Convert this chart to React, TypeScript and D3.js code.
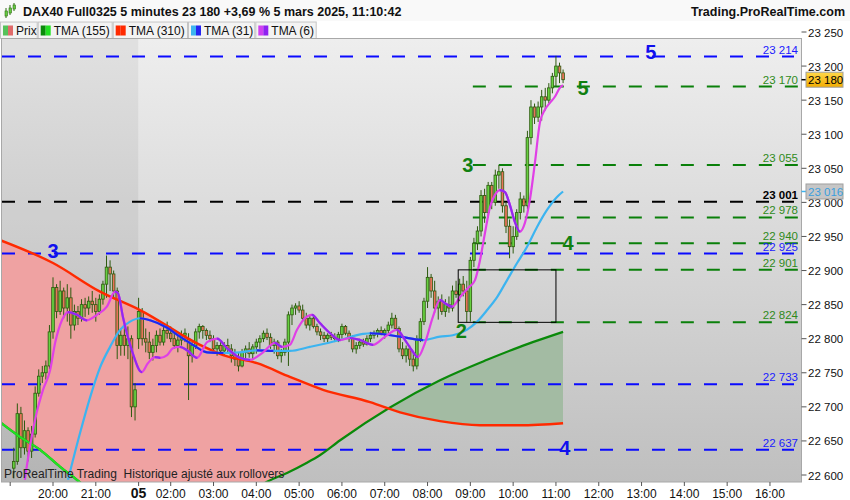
import * as d3 from "d3"

// ---- data ----
const firstBar = 4 // bar index of the first candle (19:05), 5-min bars, index 39 = session open

const opens = [
  22610, 22620, 22690, 22640, 22665, 22635, 22660, 22720, 22745, 22750,
  22760, 22810, 22875, 22840, 22870, 22845, 22860, 22820, 22840, 22830,
  22850, 22845, 22855, 22850, 22840, 22858, 22880, 22905, 22895, 22870,
  22790, 22805, 22790, 22800, 22700,
  22800, 22840, 22800, 22795, 22780, 22790, 22805, 22795, 22812, 22808,
  22800, 22790, 22798, 22805, 22800, 22775, 22790, 22810, 22818, 22812,
  22805, 22800, 22785, 22790, 22782, 22790, 22785, 22775, 22770, 22760,
  22780, 22785, 22778, 22788, 22795, 22800, 22808, 22802, 22790, 22795,
  22775, 22780, 22795, 22835, 22845, 22848, 22842, 22830, 22820, 22830,
  22818, 22810, 22805, 22800, 22805, 22802, 22800, 22806, 22818, 22808,
  22800, 22785, 22790, 22795, 22792, 22800, 22805, 22808, 22812, 22808,
  22812, 22820, 22830, 22815, 22785, 22775, 22785, 22770, 22760, 22800,
  22825, 22855, 22890, 22870, 22845, 22855, 22840, 22850, 22845, 22870,
  22865, 22880, 22870, 22840, 22915, 22940, 22958, 23010, 22985, 23025,
  23000, 23040, 23045, 22995, 22965, 22935, 22950, 22985, 23005, 22995,
  23095, 23140, 23125, 23140, 23155, 23150, 23168, 23185, 23200, 23190,
]
const highs = [
  22640, 22705, 22700, 22680, 22670, 22672, 22730, 22755, 22760, 22768,
  22820, 22890, 22880, 22885, 22875, 22880, 22875, 22850, 22848, 22858,
  22860, 22862, 22870, 22860, 22865, 22885, 22922, 22915, 22900, 22875,
  22815, 22820, 22818, 22805, 22735,
  22860, 22845, 22815, 22810, 22800, 22812, 22815, 22820, 22825, 22818,
  22812, 22805, 22812, 22815, 22808, 22795, 22815, 22822, 22820, 22815,
  22812, 22805, 22795, 22798, 22795, 22800, 22792, 22785, 22780, 22785,
  22790, 22795, 22792, 22800, 22805, 22812, 22815, 22808, 22800, 22798,
  22785, 22800, 22840, 22850, 22852, 22855, 22850, 22838, 22835, 22835,
  22822, 22815, 22810, 22808, 22810, 22808, 22810, 22822, 22820, 22812,
  22805, 22795, 22800, 22800, 22805, 22810, 22812, 22815, 22818, 22815,
  22825, 22838, 22835, 22818, 22795, 22790, 22790, 22780, 22805, 22830,
  22860, 22905, 22895, 22885, 22862, 22865, 22858, 22862, 22878, 22885,
  22888, 22892, 22885, 22920, 22948, 22965, 23018, 23020, 23030, 23030,
  23048, 23055, 23050, 23000, 22975, 22965, 22990, 23015, 23010, 23105,
  23150, 23145, 23148, 23165, 23168, 23175, 23190, 23215, 23205, 23195,
]
const lows = [
  22595, 22615, 22625, 22630, 22620, 22625, 22655, 22715, 22735, 22740,
  22755, 22800, 22830, 22835, 22830, 22825, 22800, 22812, 22820, 22825,
  22832, 22835, 22838, 22825, 22835, 22850, 22860, 22870, 22860, 22770,
  22775, 22775, 22770, 22685, 22680,
  22785, 22790, 22780, 22770, 22768, 22780, 22790, 22790, 22800, 22795,
  22785, 22780, 22790, 22795, 22710, 22765, 22785, 22800, 22800, 22798,
  22795, 22780, 22775, 22778, 22775, 22780, 22765, 22760, 22752, 22758,
  22770, 22772, 22770, 22778, 22785, 22795, 22798, 22785, 22778, 22770,
  22765, 22775, 22760, 22820, 22835, 22838, 22825, 22815, 22812, 22815,
  22805, 22798, 22795, 22795, 22798, 22795, 22795, 22800, 22805, 22795,
  22780, 22778, 22785, 22788, 22790, 22795, 22800, 22802, 22805, 22800,
  22808, 22815, 22812, 22780, 22770, 22765, 22760, 22752, 22755, 22795,
  22820, 22845, 22860, 22838, 22828, 22835, 22832, 22838, 22840, 22860,
  22855, 22862, 22824, 22825, 22905, 22930, 22950, 22970, 22978, 22990,
  22995, 23020, 22985, 22955, 22918, 22925, 22945, 22975, 22985, 22990,
  23085, 23115, 23118, 23120, 23135, 23145, 23160, 23170, 23175, 23175,
]
const closes = [
  22620, 22690, 22640, 22665, 22635, 22660, 22720, 22745, 22750, 22760,
  22810, 22875, 22840, 22870, 22845, 22860, 22820, 22840, 22830, 22850,
  22845, 22855, 22850, 22840, 22858, 22880, 22905, 22895, 22870, 22790,
  22805, 22790, 22800, 22700, 22725,
  22840, 22800, 22795, 22780, 22790, 22805, 22795, 22812, 22808, 22800,
  22790, 22798, 22805, 22808, 22775, 22790, 22810, 22818, 22812, 22805,
  22800, 22785, 22790, 22782, 22790, 22785, 22775, 22770, 22760, 22780,
  22785, 22778, 22788, 22795, 22800, 22808, 22802, 22790, 22795, 22775,
  22780, 22795, 22835, 22845, 22848, 22842, 22830, 22820, 22830, 22818,
  22810, 22805, 22800, 22805, 22802, 22800, 22806, 22818, 22808, 22800,
  22785, 22790, 22795, 22792, 22800, 22805, 22808, 22812, 22808, 22812,
  22820, 22830, 22815, 22785, 22775, 22785, 22770, 22760, 22800, 22825,
  22855, 22890, 22870, 22845, 22855, 22840, 22850, 22845, 22870, 22865,
  22880, 22870, 22840, 22915, 22940, 22958, 23010, 22985, 23025, 23000,
  23040, 23045, 22995, 22965, 22935, 22950, 22985, 23005, 22995, 23095,
  23140, 23125, 23140, 23155, 23150, 23168, 23185, 23200, 23190, 23180,
]

// moving averages as [bar index, price]
const tma6 = [
  [7.1, 22593], [8.5, 22641], [10.4, 22691], [12.2, 22725], [14.2, 22754], [15.6, 22794],
  [17.5, 22827], [19.2, 22839], [21.7, 22835], [24.5, 22827], [27.3, 22835], [30.1, 22847],
  [32.4, 22869], [33.2, 22867], [34.6, 22832], [37.1, 22783], [39.9, 22751], [41.6, 22764],
  [43.6, 22773], [45, 22772], [47, 22776], [48.6, 22786], [50.6, 22788], [52.6, 22783],
  [55.4, 22772], [58.2, 22795], [61, 22800], [63.8, 22786], [67.4, 22772], [70.2, 22769],
  [73.9, 22780], [77.2, 22794], [79.2, 22788], [81.4, 22791], [83.4, 22813], [85.6, 22830],
  [87.6, 22835], [89.8, 22823], [92.7, 22808], [95.5, 22798], [98.3, 22801], [101.1, 22798],
  [104.7, 22791], [108.1, 22803], [111.4, 22813], [113.7, 22798], [115.6, 22783], [117.3, 22773],
  [119.3, 22794], [121.5, 22832], [123.5, 22857], [124.9, 22852], [126.9, 22847], [129.1, 22861],
  [131.3, 22874], [133.3, 22886], [134.7, 22915], [136.1, 22955], [137.5, 22993], [138.9, 23011],
  [140.3, 23018], [141.7, 23015], [143.1, 22996], [144.5, 22971], [145.9, 22957], [147.3, 22970],
  [148.7, 23004], [150.1, 23058], [151.5, 23117], [152.9, 23136], [154.3, 23146], [155.7, 23155],
  [157.1, 23168], [158, 23172],
]
const tma31 = [
  [19.2, 22593], [22.6, 22662], [25.4, 22714], [28.2, 22758], [31, 22788], [33.8, 22813],
  [36.6, 22825], [39.4, 22830], [42.2, 22827], [47, 22816], [50.6, 22803], [54.2, 22791],
  [58.2, 22780], [62.7, 22779], [67.4, 22780], [72.2, 22783], [76.7, 22782], [81.4, 22782],
  [87, 22788], [95.5, 22798], [101.9, 22807], [103.9, 22808], [112.3, 22803], [118.7, 22798],
  [123.5, 22803], [127.1, 22805], [131, 22813], [133.9, 22825], [136.7, 22842], [139.5, 22861],
  [142.3, 22886], [145.1, 22911], [147.9, 22935], [150.7, 22964], [153.5, 22989], [156.3, 23008],
  [158, 23016],
]
const tma155 = [
  [0, 22678], [5.7, 22656], [11.4, 22637], [17, 22612], [21.7, 22593], [26.8, 22571],
  [35, 22548], [50, 22540], [60, 22550], [67.4, 22563], [75, 22590], [80.6, 22603],
  [86.2, 22618], [89.8, 22629], [95.5, 22651], [123.5, 22739], [136.7, 22769], [145.9, 22788],
  [158, 22810],
]
const tma310 = [
  [0, 22945], [15, 22911], [28.2, 22869], [39.4, 22842], [56.2, 22791], [62.7, 22776],
  [72.2, 22764], [81.4, 22744], [90.7, 22725], [103.9, 22707], [112.3, 22692], [123.5, 22679],
  [134.7, 22673], [145.9, 22673], [158, 22676],
]

const blueLevels = [23214, 22925, 22733, 22637]
const greenLevels = [23170, 23055, 22978, 22940, 22901, 22824]
const blackLevels = [23001]
const greenStart = 132.7

// wave counts: [label, bar index, price at baseline, colour]
const waveLabels: [string, number, number, string][] = [
  ["5", 182.6, 23211, "#1010ee"],
  ["5", 163.6, 23158, "#108010"],
  ["3", 131.3, 23045, "#108010"],
  ["4", 159.4, 22930, "#108010"],
  ["2", 129.5, 22801, "#108010"],
  ["3", 15, 22918, "#1010ee"],
  ["4", 158.5, 22629, "#1010ee"],
]

// box: [from bar, to bar, top, bottom]
const box = [128.6, 156, 22901, 22824]

const yTicks = d3.range(22600, 23251, 50)
const hourTicks: [number, string][] = [
  [3, ""], [15, "20:00"], [27, "21:00"], [39, "05"], [48, "02:00"], [60, "03:00"],
  [72, "04:00"], [84, "05:00"], [96, "06:00"], [108, "07:00"], [120, "08:00"],
  [132, "09:00"], [144, "10:00"], [156, "11:00"], [168, "12:00"], [180, "13:00"],
  [192, "14:00"], [204, "15:00"], [216, "16:00"],
]

const legendItems: [string, string, string, number, number][] = [
  ["Prix", "#55c15a", "#e06a6a", 0, 37.7],
  ["TMA (155)", "#0a8a0a", "#22e022", 37.7, 112.7],
  ["TMA (310)", "#ff2a00", "#ff2a00", 112.7, 188],
  ["TMA (31)", "#3cb4f0", "#2424f0", 188, 255.3],
  ["TMA (6)", "#d040f0", "#9020f0", 255.3, 316.7],
]

// ---- layout ----
const W = 850
const H = 500
const plot = { left: 2, right: 801.5, top: 39, bottom: 482 }
const font = "'Liberation Sans', Arial, sans-serif"

const x = d3.scaleLinear().domain([0, 224]).range([-0.5, 798.5])
const y = d3.scaleLinear().domain([22600, 23250]).range([475, 32])

const fmt = d3.formatLocale({ decimal: ",", thousands: "\u00a0", grouping: [3], currency: ["", "€"] }).format(",")

const line = d3
  .line<number[]>()
  .x((d) => x(d[0]))
  .y((d) => y(d[1]))
  .curve(d3.curveMonotoneX)

const areaTo = (edge: number) =>
  d3
    .area<number[]>()
    .x((d) => x(d[0]))
    .y0(edge)
    .y1((d) => y(d[1]))
    .curve(d3.curveMonotoneX)

function TwoToneLine({ pts, up, down, width, id }: { pts: number[][]; up: string; down: string; width: number; id: string }) {
  const d = line(pts) || ""
  const falling = pts.slice(1).flatMap((p, k) => (p[1] < pts[k][1] ? [[pts[k][0], p[0]]] : []))
  return (
    <g>
      <clipPath id={id}>
        {falling.map(([a, b], k) => (
          <rect key={k} x={x(a) - 0.3} y={0} width={x(b) - x(a) + 0.6} height={H} />
        ))}
      </clipPath>
      <path d={d} fill="none" stroke={up} strokeWidth={width} />
      <path d={d} fill="none" stroke={down} strokeWidth={width} clipPath={`url(#${id})`} />
    </g>
  )
}

export default function App() {
  const bars = closes.map((c, k) => ({ i: firstBar + k, o: opens[k], h: highs[k], l: lows[k], c }))
  const lastPrice = closes[closes.length - 1]
  const lastTma31 = tma31[tma31.length - 1][1]

  return (
    <div style={{ position: "fixed", left: 0, top: 0 }}>
      <svg width={W} height={H} style={{ display: "block", fontFamily: font }}>
        <defs>
          <linearGradient id="bg" x1="0" y1="0" x2="0" y2="1">
            <stop offset="0" stopColor="#eeeeee" />
            <stop offset="1" stopColor="#bfbfbf" />
          </linearGradient>
          <linearGradient id="gold" x1="0" y1="0" x2="0" y2="1">
            <stop offset="0" stopColor="#ffd84a" />
            <stop offset="1" stopColor="#f2ac00" />
          </linearGradient>
          <clipPath id="plotClip">
            <rect x={plot.left} y={plot.top} width={plot.right - plot.left} height={plot.bottom - plot.top} />
          </clipPath>
          <clipPath id="aboveGreen">
            <path d={areaTo(-50)(tma155) || ""} />
          </clipPath>
          <clipPath id="aboveRed">
            <path d={areaTo(-50)(tma310) || ""} />
          </clipPath>
        </defs>

        <rect width={W} height={H} fill="#ffffff" />

        {/* header */}
        <rect x={0} y={0} width={W} height={21} fill="#f9f9f9" />
        <g>
          <line x1={6} x2={6} y1={8} y2={18} stroke="#2f6f10" />
          <rect x={5} y={11} width={2.5} height={5} fill="#66cc44" stroke="#2f6f10" strokeWidth={0.6} />
          <line x1={10} x2={10} y1={5} y2={15} stroke="#2f6f10" />
          <rect x={9} y={8} width={2.5} height={5} fill="#66cc44" stroke="#2f6f10" strokeWidth={0.6} />
          <line x1={14} x2={14} y1={3} y2={11} stroke="#2f6f10" />
          <rect x={13} y={5} width={2.5} height={4} fill="#66cc44" stroke="#2f6f10" strokeWidth={0.6} />
        </g>
        <text x={23} y={16} fontSize={12.5} fontWeight="bold" fill="#111">
          DAX40 Full0325 5 minutes 23 180 +3,69 % 5 mars 2025, 11:10:42
        </text>
        <text x={845} y={16} fontSize={12.5} fontWeight="bold" fill="#111" textAnchor="end">
          Trading.ProRealTime.com
        </text>

        {/* legend */}
        {legendItems.map(([name, c1, c2, x0, x1]) => (
          <g key={name}>
            <rect x={x0 + 0.5} y={22} width={x1 - x0 - 1} height={16.5} fill="#f3f3f3" stroke="#c4c4c4" />
            <rect x={x0 + 3} y={25.5} width={5} height={10} fill={c1} />
            <rect x={x0 + 8} y={25.5} width={5} height={10} fill={c2} />
            <text x={x0 + 16} y={35} fontSize={12} fill="#111">
              {name}
            </text>
          </g>
        ))}

        {/* plot background */}
        <rect x={plot.left} y={plot.top} width={plot.right - plot.left} height={plot.bottom - plot.top} fill="url(#bg)" />
        <rect x={plot.left} y={plot.top} width={x(38.9) - plot.left} height={plot.bottom - plot.top} fill="rgba(0,0,0,0.055)" />

        <g clipPath="url(#plotClip)">
          {/* cloud between TMA 155 and TMA 310 */}
          <path d={areaTo(plot.bottom + 200)(tma310) || ""} fill="#efa2a2" clipPath="url(#aboveGreen)" />
          <path d={areaTo(plot.bottom + 200)(tma155) || ""} fill="#a3bba3" clipPath="url(#aboveRed)" />

          {/* horizontal levels */}
          {blueLevels.map((v) => (
            <line key={v} x1={plot.left} x2={794} y1={y(v)} y2={y(v)} stroke="#0a0aff" strokeWidth={2} strokeDasharray="13 13" />
          ))}
          {blackLevels.map((v) => (
            <line key={v} x1={plot.left} x2={794} y1={y(v)} y2={y(v)} stroke="#000" strokeWidth={2} strokeDasharray="13 13" />
          ))}
          {greenLevels.map((v) => (
            <line key={v} x1={x(greenStart)} x2={799} y1={y(v)} y2={y(v)} stroke="#0a800a" strokeWidth={2} strokeDasharray="13 13" />
          ))}

          {/* candles */}
          {bars.map((b) => {
            const cx = x(b.i)
            const top = y(Math.max(b.o, b.c))
            const bot = y(Math.min(b.o, b.c))
            return (
              <g key={b.i}>
                <line x1={cx} x2={cx} y1={y(b.h)} y2={y(b.l)} stroke="#2d5a0e" strokeWidth={1} />
                <rect
                  x={cx - 1.3}
                  y={top}
                  width={2.6}
                  height={Math.max(bot - top, 1)}
                  fill={b.c >= b.o ? "#66d040" : "#e8735a"}
                  stroke="#2d5a0e"
                  strokeWidth={0.8}
                />
              </g>
            )
          })}

          {/* moving averages */}
          <TwoToneLine pts={tma155} up="#0a8a0a" down="#22e022" width={2.2} id="c155" />
          <path d={line(tma310) || ""} fill="none" stroke="#ff2a00" strokeWidth={2.4} />
          <TwoToneLine pts={tma31} up="#3cb4f0" down="#2424f0" width={2.2} id="c31" />
          <TwoToneLine pts={tma6} up="#e040e6" down="#9428f0" width={2.2} id="c6" />

          {/* box */}
          <rect x={x(box[0])} y={y(box[2])} width={x(box[1]) - x(box[0])} height={y(box[3]) - y(box[2])} fill="none" stroke="#000" strokeWidth={1} />

          {/* level labels */}
          {blueLevels.map((v) => (
            <text key={v} x={798} y={y(v) - 3} fontSize={11.5} fill="#1a1aff" textAnchor="end">
              {fmt(v)}
            </text>
          ))}
          {greenLevels.map((v) => (
            <text key={v} x={798} y={y(v) - 3} fontSize={11.5} fill="#2f8a1a" textAnchor="end">
              {fmt(v)}
            </text>
          ))}
          {blackLevels.map((v) => (
            <text key={v} x={798} y={y(v) - 3} fontSize={11.5} fontWeight="bold" fill="#000" textAnchor="end">
              {fmt(v)}
            </text>
          ))}

          {/* wave counts */}
          {waveLabels.map(([t, i, v, c], k) => (
            <text key={k} x={x(i)} y={y(v)} fontSize={20} fontWeight="bold" fill={c} textAnchor="middle">
              {t}
            </text>
          ))}

          <text x={4} y={478} fontSize={12} fill="#222">
            ProRealTime Trading{"\u00a0\u00a0"}Historique ajusté aux rollovers
          </text>
        </g>

        {/* frame */}
        <rect x={plot.left - 0.5} y={plot.top - 0.5} width={plot.right - plot.left + 0.5} height={plot.bottom - plot.top + 0.5} fill="none" stroke="#a8a8a8" />

        {/* y axis */}
        {yTicks.map((v) => (
          <g key={v}>
            <line x1={plot.right} x2={plot.right + 5} y1={y(v)} y2={y(v)} stroke="#555" />
            <text x={plot.right + 6.5} y={y(v) + 4.5} fontSize={11.5} fill="#111">
              {fmt(v)}
            </text>
          </g>
        ))}

        {/* price tags */}
        <line x1={plot.right} x2={plot.right + 5} y1={y(lastTma31)} y2={y(lastTma31)} stroke="#3cb4f0" strokeWidth={1.5} />
        <rect x={plot.right + 4.5} y={y(lastTma31) - 7.5} width={37} height={15} fill="#c6c6c6" stroke="#a0a0a0" />
        <text x={plot.right + 6.5} y={y(lastTma31) + 4.5} fontSize={11.5} fill="#3a9ede">
          {fmt(lastTma31)}
        </text>
        <line x1={plot.right} x2={plot.right + 5} y1={y(lastPrice)} y2={y(lastPrice)} stroke="#000" strokeWidth={1.5} />
        <rect x={plot.right + 4.5} y={y(lastPrice) - 7.5} width={37} height={15} fill="url(#gold)" stroke="#a0a0a0" />
        <text x={plot.right + 6.5} y={y(lastPrice) + 4.5} fontSize={11.5} fill="#000">
          {fmt(lastPrice)}
        </text>

        {/* x axis */}
        {hourTicks.map(([i, label]) => (
          <g key={i}>
            <line x1={x(i)} x2={x(i)} y1={plot.bottom} y2={plot.bottom + 4} stroke="#555" />
            <text
              x={x(i)}
              y={498}
              fontSize={label === "05" ? 14 : 12}
              fontWeight={label === "05" ? "bold" : "normal"}
              fill="#111"
              textAnchor="middle"
            >
              {label}
            </text>
          </g>
        ))}
      </svg>
    </div>
  )
}
